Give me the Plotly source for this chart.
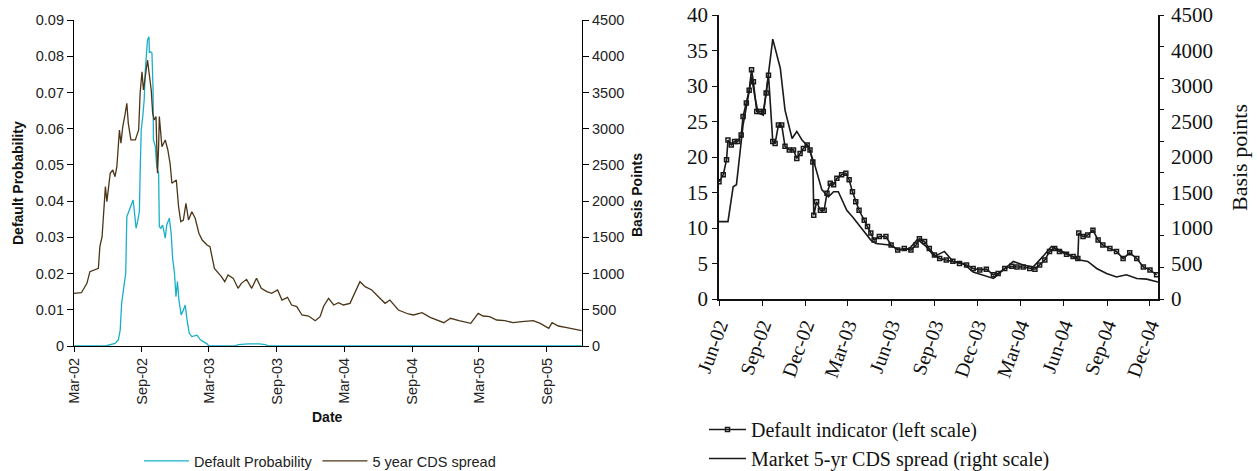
import plotly.graph_objects as go

# ---------------- Left chart data ----------------
cds_dates = [
    "2002-03-01", "2002-03-21", "2002-04-05", "2002-04-13", "2002-05-06", "2002-05-10", "2002-05-16",
    "2002-05-21", "2002-05-25", "2002-05-29", "2002-06-07", "2002-06-14", "2002-06-20", "2002-06-25",
    "2002-07-02", "2002-07-06", "2002-07-11", "2002-07-17", "2002-07-22", "2002-07-26", "2002-08-02",
    "2002-08-14", "2002-08-23", "2002-08-27", "2002-09-01", "2002-09-05", "2002-09-11", "2002-09-16",
    "2002-09-21", "2002-09-26", "2002-09-30", "2002-10-04", "2002-10-09", "2002-10-13", "2002-10-16",
    "2002-10-18", "2002-10-25", "2002-11-03", "2002-11-10", "2002-11-16", "2002-11-21", "2002-12-03",
    "2002-12-09", "2002-12-15", "2002-12-22", "2002-12-29", "2003-01-05", "2003-01-14", "2003-01-23",
    "2003-02-02", "2003-02-11", "2003-02-24", "2003-03-04", "2003-03-12", "2003-03-16", "2003-04-04",
    "2003-04-13", "2003-04-22", "2003-05-06", "2003-05-19", "2003-05-28", "2003-06-11", "2003-06-25",
    "2003-07-08", "2003-07-21", "2003-08-05", "2003-08-18", "2003-09-03", "2003-09-15", "2003-09-30",
    "2003-10-11", "2003-10-25", "2003-11-08", "2003-11-26", "2003-12-14", "2003-12-27", "2004-01-06",
    "2004-01-19", "2004-02-02", "2004-02-15", "2004-02-28", "2004-03-17", "2004-03-30", "2004-04-13",
    "2004-04-27", "2004-05-15", "2004-06-02", "2004-06-20", "2004-07-03", "2004-07-26", "2004-08-22",
    "2004-09-05", "2004-09-28", "2004-10-20", "2004-11-26", "2004-12-14", "2005-01-06", "2005-02-07",
    "2005-02-27", "2005-03-12", "2005-03-30", "2005-04-18", "2005-05-10", "2005-06-02", "2005-06-25",
    "2005-07-26", "2005-08-14", "2005-09-06", "2005-09-15", "2005-10-02", "2005-10-25", "2005-11-12",
    "2005-12-04",
]
cds_bp = [
    727, 735, 865, 1026, 1072, 1371, 1509,
    1923, 2200, 1992, 2384, 2430, 2337, 2475,
    2982, 2798, 3027, 3189, 3350, 3074, 2844,
    2844, 2982, 3488, 3786, 3534, 3765, 3948,
    3741, 3534, 3212, 3120, 3166, 2384, 2751,
    3166, 2751, 2844, 2706, 2522, 2246, 2292,
    1923, 1716, 1739, 1970, 1739, 1854, 1763,
    1556, 1463, 1394, 1371, 1141, 1072, 957,
    888, 980, 934, 796, 865, 920, 796,
    934, 796, 750, 727, 773, 635, 672,
    566, 543, 428, 414, 349, 405, 552,
    658, 566, 598, 566, 589, 727, 888,
    819, 773, 681, 589, 635, 497, 442,
    428, 460, 396, 322, 382, 349, 313,
    451, 414, 405, 359, 349, 322, 336,
    349, 313, 244, 322, 276, 253, 235,
    211,
]

dp_dates = [
    "2002-03-01", "2002-05-25", "2002-06-20", "2002-06-29", "2002-07-04", "2002-07-08", "2002-07-14",
    "2002-07-19", "2002-07-22", "2002-07-26", "2002-08-02", "2002-08-08", "2002-08-11", "2002-08-16",
    "2002-08-21", "2002-08-25", "2002-08-27", "2002-08-30", "2002-09-03", "2002-09-07", "2002-09-10",
    "2002-09-13", "2002-09-16", "2002-09-20", "2002-09-21", "2002-09-23", "2002-09-28", "2002-10-01",
    "2002-10-02", "2002-10-07", "2002-10-11", "2002-10-16", "2002-10-18", "2002-10-22", "2002-10-27",
    "2002-11-03", "2002-11-07", "2002-11-14", "2002-11-19", "2002-11-23", "2002-11-28", "2002-12-02",
    "2002-12-06", "2002-12-10", "2002-12-16", "2002-12-22", "2002-12-27", "2003-01-01", "2003-01-07",
    "2003-01-14", "2003-01-28", "2003-02-06", "2003-02-15", "2003-02-24", "2003-03-01", "2003-05-10",
    "2003-05-20", "2003-06-15", "2003-07-15", "2003-08-01", "2003-08-10", "2005-12-04",
]
dp_vals = [
    0, 0, 0.0007, 0.0017, 0.0044, 0.0118, 0.0164,
    0.0201, 0.0357, 0.0367, 0.0385, 0.0403, 0.0376, 0.0325,
    0.0348, 0.0371, 0.0477, 0.0597, 0.0633, 0.068, 0.0762,
    0.0818, 0.0845, 0.0854, 0.0809, 0.0813, 0.0809, 0.0707,
    0.0569, 0.0551, 0.0495, 0.0477, 0.033, 0.0325, 0.0334,
    0.0298, 0.0334, 0.0353, 0.0311, 0.0242, 0.0201, 0.0136,
    0.0178, 0.0127, 0.0086, 0.0099, 0.0113, 0.0072, 0.0035,
    0.0026, 0.003, 0.0017, 0.0012, 0.0006, 0, 0,
    0.0004, 0.0006, 0.0006, 0.0004, 0, 0,
]

left_ticks = ["2002-03-01", "2002-09-01", "2003-03-01", "2003-09-01", "2004-03-01",
              "2004-09-01", "2005-03-01", "2005-09-01"]

# ---------------- Right chart data ----------------
di_dates = [
    "2002-06-01", "2002-06-10", "2002-06-17", "2002-06-20", "2002-06-27", "2002-07-04", "2002-07-11",
    "2002-07-18", "2002-07-22", "2002-07-29", "2002-08-04", "2002-08-09", "2002-08-13", "2002-08-20",
    "2002-08-27", "2002-09-03", "2002-09-09", "2002-09-14", "2002-09-23", "2002-09-28", "2002-10-05",
    "2002-10-12", "2002-10-19", "2002-10-28", "2002-11-06", "2002-11-13", "2002-11-20", "2002-11-27",
    "2002-12-05", "2002-12-11", "2002-12-17", "2002-12-19", "2002-12-25", "2003-01-02", "2003-01-10",
    "2003-01-16", "2003-01-23", "2003-01-30", "2003-02-06", "2003-02-16", "2003-02-25", "2003-03-04",
    "2003-03-11", "2003-03-18", "2003-03-25", "2003-04-05", "2003-04-12", "2003-04-19", "2003-04-26",
    "2003-05-07", "2003-05-21", "2003-06-01", "2003-06-15", "2003-06-29", "2003-07-13", "2003-07-24",
    "2003-07-31", "2003-08-11", "2003-08-21", "2003-09-01", "2003-09-12", "2003-09-26", "2003-10-10",
    "2003-10-24", "2003-11-08", "2003-11-22", "2003-12-06", "2003-12-20", "2004-01-04", "2004-01-14",
    "2004-01-28", "2004-02-12", "2004-02-23", "2004-03-07", "2004-03-21", "2004-04-01", "2004-04-11",
    "2004-04-22", "2004-05-02", "2004-05-13", "2004-05-23", "2004-06-07", "2004-06-21", "2004-07-01",
    "2004-07-03", "2004-07-12", "2004-07-22", "2004-08-02", "2004-08-13", "2004-08-23", "2004-09-07",
    "2004-09-21", "2004-10-05", "2004-10-19", "2004-11-03", "2004-11-17", "2004-12-01", "2004-12-15",
]
di_vals = [
    16.5, 17.5, 19.6, 22.4, 21.7, 22.2, 22.2,
    23.1, 25.7, 27.6, 29.4, 32.3, 30.6, 26.4,
    26.4, 26.4, 29.0, 31.5, 22.2, 21.9, 24.5,
    24.5, 21.5, 21.0, 21.0, 19.8, 20.5, 21.2,
    21.7, 21.0, 19.3, 11.8, 13.7, 12.5, 12.5,
    14.9, 16.3, 16.1, 17.0, 17.5, 17.7, 16.8,
    15.1, 13.7, 12.5, 11.1, 10.2, 9.3, 8.3,
    8.8, 8.8, 7.6, 6.9, 7.1, 6.9, 7.6,
    8.5, 8.1, 7.1, 6.2, 5.7, 5.5, 5.3,
    5.0, 4.8, 4.3, 4.1, 4.2, 3.4, 3.6,
    4.3, 4.6, 4.5, 4.5, 4.3, 4.2, 4.8,
    5.5, 6.7, 7.1, 6.7, 6.3, 6.0, 5.7,
    9.3, 8.8, 9.0, 9.7, 8.3, 7.6, 7.1,
    6.7, 5.7, 6.5, 5.7, 4.5, 4.1, 3.4,
]

mkt_dates = [
    "2002-06-01", "2002-06-20", "2002-07-01", "2002-07-08", "2002-07-15", "2002-07-22", "2002-08-02",
    "2002-08-09", "2002-08-16", "2002-08-23", "2002-09-03", "2002-09-13", "2002-09-23", "2002-10-09",
    "2002-10-19", "2002-11-03", "2002-11-13", "2002-11-24", "2002-12-07", "2002-12-21", "2003-01-05",
    "2003-01-19", "2003-01-30", "2003-02-09", "2003-02-27", "2003-03-11", "2003-04-02", "2003-04-19",
    "2003-04-30", "2003-05-21", "2003-05-28", "2003-06-19", "2003-07-10", "2003-07-27", "2003-08-14",
    "2003-09-01", "2003-09-22", "2003-10-10", "2003-11-01", "2003-11-22", "2003-12-13", "2004-01-04",
    "2004-01-25", "2004-02-15", "2004-03-07", "2004-03-28", "2004-04-18", "2004-05-06", "2004-05-23",
    "2004-06-14", "2004-07-05", "2004-07-22", "2004-08-10", "2004-08-31", "2004-09-21", "2004-10-12",
    "2004-11-03", "2004-11-24", "2004-12-18",
]
mkt_bp = [
    1226, 1226, 1778, 1811, 2284, 2756, 3206,
    3521, 3206, 2948, 2914, 3521, 4118, 3656,
    2993, 2543, 2655, 2520, 2419, 2126, 1733,
    1620, 1699, 1699, 1406, 1305, 1091, 934,
    878, 855, 855, 776, 799, 945, 833,
    675, 754, 596, 563, 428, 383, 326,
    461, 596, 540, 506, 675, 833, 776,
    698, 619, 596, 484, 405, 349, 383,
    326, 315, 270,
]

right_ticks = ["2002-06-01", "2002-09-01", "2002-12-01", "2003-03-01", "2003-06-01", "2003-09-01",
               "2003-12-01", "2004-03-01", "2004-06-01", "2004-09-01", "2004-12-01"]
right_tick_text = ["Jun-02", "Sep-02", "Dec-02", "Mar-03", "Jun-03", "Sep-03",
                   "Dec-03", "Mar-04", "Jun-04", "Sep-04", "Dec-04"]
left_scale_vals = [0, 5, 10, 15, 20, 25, 30, 35, 40]
bp_label_text = ["0", "500", "1000", "1500", "2000", "2500", "3000", "4000", "4500"]
bp_tick_vals = [0, 500, 1000, 1500, 2000, 2500, 3000, 3500, 4000, 4500]

W, H = 1257, 471
def px(x):
    return x / W
def py(y):
    return 1 - y / H

SANS = "Liberation Sans, Arial, sans-serif"
SERIF = "Liberation Serif, Times New Roman, serif"
CYAN = "#19afc9"
BROWN = "#4b3517"

fig = go.Figure()

fig.add_trace(go.Scatter(x=dp_dates, y=dp_vals, mode="lines", name="Default Probability",
                         line=dict(color=CYAN, width=1.3), xaxis="x", yaxis="y", legend="legend"))
fig.add_trace(go.Scatter(x=cds_dates, y=cds_bp, mode="lines", name="5 year CDS spread",
                         line=dict(color=BROWN, width=1.3), xaxis="x", yaxis="y2", legend="legend"))

fig.add_trace(go.Scatter(x=di_dates, y=di_vals, mode="lines+markers", name="Default indicator (left scale)",
                         line=dict(color="#1a1a1a", width=1.6),
                         marker=dict(symbol="square-open", size=4, color="#1a1a1a", line=dict(width=1.5)),
                         xaxis="x2", yaxis="y3", legend="legend2"))
fig.add_trace(go.Scatter(x=mkt_dates, y=mkt_bp, mode="lines", name="Market 5-yr CDS spread (right scale)",
                         line=dict(color="#1a1a1a", width=1.6),
                         xaxis="x2", yaxis="y4", legend="legend2"))
# invisible copy on the label-only axis so that it is drawn
fig.add_trace(go.Scatter(x=di_dates, y=di_vals, mode="lines", opacity=0, showlegend=False,
                         hoverinfo="skip", line=dict(color="rgba(0,0,0,0)", width=0),
                         xaxis="x2", yaxis="y5"))

axis_common = dict(showgrid=False, zeroline=False, automargin=False)

fig.update_layout(
    width=W, height=H,
    margin=dict(l=0, r=0, t=0, b=0, autoexpand=False),
    paper_bgcolor="white", plot_bgcolor="white",
    showlegend=True,
    xaxis=dict(**axis_common, type="date", domain=[px(74), px(582)], anchor="y",
               range=["2002-03-01", "2005-12-05"], tickvals=left_ticks, tickformat="%b-%y",
               tickangle=-90, showline=True, linecolor="black", linewidth=1.2,
               ticks="outside", ticklen=5, tickcolor="black",
               tickfont=dict(family=SANS, size=14.5, color="#222")),
    yaxis=dict(**axis_common, domain=[py(346), py(20)], anchor="x", range=[0, 0.09], dtick=0.01,
               showline=True, linecolor="black", linewidth=1.2, ticks="outside", ticklen=6,
               tickcolor="black", tickfont=dict(family=SANS, size=14.5, color="#222")),
    yaxis2=dict(**axis_common, overlaying="y", side="right", anchor="x", range=[0, 4500], dtick=500,
                showline=True, linecolor="black", linewidth=1.2, ticks="outside", ticklen=6,
                tickcolor="black", tickfont=dict(family=SANS, size=14.5, color="#222")),
    xaxis2=dict(**axis_common, type="date", domain=[px(719), px(1158)], anchor="y3",
                range=["2002-06-01", "2004-12-18"], tickvals=right_ticks, ticktext=right_tick_text,
                tickangle=-70, showline=True, linecolor="#111", linewidth=1.8,
                ticks="outside", ticklen=5, tickcolor="#111",
                tickfont=dict(family=SERIF, size=20, color="#111")),
    yaxis3=dict(**axis_common, domain=[py(299), py(15)], anchor="x2", range=[0, 40], dtick=5,
                showline=True, linecolor="#111", linewidth=1.8, ticks="outside", ticklen=5,
                tickcolor="#111", tickfont=dict(family=SERIF, size=21, color="#111")),
    yaxis4=dict(**axis_common, overlaying="y3", side="right", anchor="x2", range=[0, 4500],
                tickvals=bp_tick_vals, showticklabels=False,
                showline=True, linecolor="#111", linewidth=1.8, ticks="outside", ticklen=4,
                tickcolor="#111"),
    yaxis5=dict(**axis_common, overlaying="y3", side="right", anchor="x2", range=[0, 40],
                tickvals=left_scale_vals, ticktext=bp_label_text, showline=False, ticks="",
                ticklabelstandoff=12, tickfont=dict(family=SERIF, size=21, color="#111")),
    legend=dict(orientation="h", x=px(320), xanchor="center", y=py(461), yanchor="middle",
                itemwidth=45,
                font=dict(family=SANS, size=14.5, color="#222"), bgcolor="rgba(0,0,0,0)"),
    legend2=dict(orientation="v", x=px(704), xanchor="left", y=py(444), yanchor="middle",
                 itemwidth=37,
                 font=dict(family=SERIF, size=20, color="#111"), bgcolor="rgba(0,0,0,0)",
                 tracegroupgap=0),
    annotations=[
        dict(text="<b>Default Probability</b>", x=px(18), y=py(183), xref="paper", yref="paper",
             xanchor="center", yanchor="middle",
             textangle=-90, showarrow=False, font=dict(family=SANS, size=14, color="#111")),
        dict(text="<b>Basis Points</b>", x=px(637), y=py(195), xref="paper", yref="paper",
             xanchor="center", yanchor="middle",
             textangle=-90, showarrow=False, font=dict(family=SANS, size=14, color="#111")),
        dict(text="<b>Date</b>", x=px(327), y=py(417), xref="paper", yref="paper",
             xanchor="center", yanchor="middle",
             showarrow=False, font=dict(family=SANS, size=14, color="#111")),
        dict(text="Basis points", x=px(1240), y=py(158), xref="paper", yref="paper",
             xanchor="center", yanchor="middle",
             textangle=-90, showarrow=False, font=dict(family=SERIF, size=22, color="#111")),
    ],
)

fig.write_html("out.html")
